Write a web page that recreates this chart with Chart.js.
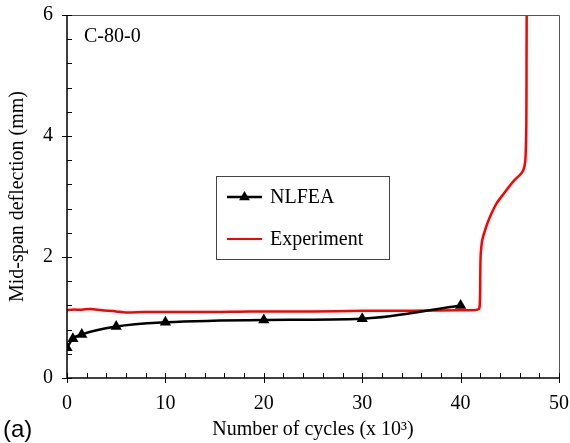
<!DOCTYPE html>
<html>
<head>
<meta charset="utf-8">
<script src="https://cdn.jsdelivr.net/npm/chart.js@4/dist/chart.umd.min.js"></script>
<style>
  html, body { margin: 0; padding: 0; background: #fff; }
  #wrap { width: 570px; height: 443px; position: relative; }
</style>
</head>
<body>
<div id="wrap"><canvas id="chart"></canvas></div>
<script>
// NLFEA prediction (cycles x 10^3, deflection mm)
const nlfeaCycles = [0, 0.6, 1.5, 5, 10, 20, 30, 40];
const nlfeaDefl = [0.5, 0.65, 0.72, 0.85, 0.92, 0.96, 0.98, 1.2];

// experimental curve
const expCycles = [0, 0.5, 1.5, 2.4, 3.5, 5, 5.7, 8, 10, 15, 18.6, 25, 30, 35, 40, 41.3, 41.7, 41.9, 41.97, 42.0, 42.03, 42.08, 42.2, 42.6, 43.0, 43.67, 44.4, 45.36, 46.2, 46.48, 46.6, 46.68, 46.7, 46.72];
const expDefl = [1.12, 1.13, 1.13, 1.14, 1.12, 1.1, 1.085, 1.09, 1.09, 1.09, 1.1, 1.1, 1.11, 1.11, 1.12, 1.12, 1.13, 1.15, 1.3, 1.7, 2.0, 2.12, 2.28, 2.5, 2.67, 2.89, 3.05, 3.25, 3.39, 3.49, 3.66, 4.2, 5.2, 6.3];

const xTicks = [0, 10, 20, 30, 40, 50];
const yTicks = [0, 2, 4, 6];
const xMinorStep = 2;
const yMinorStep = 0.4;

const serif = "'Liberation Serif', 'Times New Roman', serif";

function pairs(xs, ys) {
  return xs.map((x, i) => ({ x: x, y: ys[i] }));
}

const axisTicks = {
  id: "axisTicks",
  afterDraw(chart) {
    const ctx = chart.ctx;
    const a = chart.chartArea;
    const xs = chart.scales.x, ys = chart.scales.y;
    ctx.save();
    // top and right frame
    ctx.strokeStyle = "#555";
    ctx.lineWidth = 1;
    ctx.beginPath();
    ctx.moveTo(a.left, a.top + 0.5);
    ctx.lineTo(a.right + 0.5, a.top + 0.5);
    ctx.lineTo(a.right + 0.5, a.bottom);
    ctx.stroke();
    // left and bottom axes
    ctx.strokeStyle = "#000";
    ctx.lineWidth = 1.5;
    ctx.beginPath();
    ctx.moveTo(a.left, a.top);
    ctx.lineTo(a.left, a.bottom);
    ctx.lineTo(a.right, a.bottom);
    ctx.stroke();
    ctx.lineWidth = 1;
    ctx.beginPath();
    for (let v = 0; v <= 50 + 1e-9; v += xMinorStep) {
      const px = Math.round(xs.getPixelForValue(v)) + 0.5;
      const major = xTicks.includes(Math.round(v));
      ctx.moveTo(px, a.bottom + (major ? 5 : 0));
      ctx.lineTo(px, a.bottom - 5);
    }
    for (let v = 0; v <= 6 + 1e-9; v += yMinorStep) {
      const py = Math.round(ys.getPixelForValue(v)) + 0.5;
      const major = Math.abs(v / 2 - Math.round(v / 2)) < 1e-6;
      ctx.moveTo(a.left - (major ? 5 : 0), py);
      ctx.lineTo(a.left + 5, py);
    }
    ctx.stroke();

    // sample label
    ctx.fillStyle = "#000";
    ctx.font = "20px " + serif;
    ctx.textBaseline = "alphabetic";
    ctx.textAlign = "left";
    ctx.fillText("C-80-0", 84, 42);

    // panel label
    ctx.font = "24px 'Liberation Sans', Arial, sans-serif";
    ctx.fillText("(a)", 3, 437);

    // legend box
    const lx = 216, ly = 176, lw = 173, lh = 83;
    ctx.strokeStyle = "#444";
    ctx.lineWidth = 1;
    ctx.strokeRect(lx + 0.5, ly + 0.5, lw, lh);
    ctx.font = "20px " + serif;
    ctx.textBaseline = "middle";
    const ds = chart.data.datasets;
    const rows = [197, 239];
    ds.forEach((d, i) => {
      const y = rows[i];
      ctx.strokeStyle = d.borderColor;
      ctx.lineWidth = i === 0 ? 2.5 : 1.8;
      ctx.beginPath();
      ctx.moveTo(227, y);
      ctx.lineTo(262, y);
      ctx.stroke();
      if (d.pointRadius > 0) {
        ctx.fillStyle = "#000";
        const r = 6;
        ctx.beginPath();
        ctx.moveTo(244.5, y - r);
        ctx.lineTo(244.5 + r * 0.9, y + r * 0.55);
        ctx.lineTo(244.5 - r * 0.9, y + r * 0.55);
        ctx.closePath();
        ctx.fill();
      }
      ctx.fillStyle = "#000";
      ctx.fillText(d.label, 270, y + 1);
    });
    ctx.restore();
  }
};

new Chart(document.getElementById("chart"), {
  type: "line",
  data: {
    datasets: [
      {
        label: "NLFEA",
        data: pairs(nlfeaCycles, nlfeaDefl),
        borderColor: "#000",
        backgroundColor: "#000",
        borderWidth: 2.5,
        pointStyle: "triangle",
        pointRadius: 6.5,
        pointBackgroundColor: "#000",
        pointBorderWidth: 0,
        cubicInterpolationMode: "monotone",
        order: 1
      },
      {
        label: "Experiment",
        data: pairs(expCycles, expDefl),
        borderColor: "#ff0000",
        borderWidth: 2.5,
        pointRadius: 0,
        tension: 0.3,
        order: 2
      }
    ]
  },
  options: {
    responsive: true,
    maintainAspectRatio: false,
    animation: false,
    events: [],
    layout: { padding: { top: 15, right: 11, left: 0, bottom: 0 } },
    plugins: { legend: { display: false }, tooltip: { enabled: false } },
    scales: {
      x: {
        type: "linear",
        min: 0,
        max: 50,
        afterFit(s) {
          s.height = 65;
          s.paddingLeft = 0;
          s.paddingRight = 0;
        },
        afterBuildTicks(s) { s.ticks = xTicks.map(v => ({ value: v })); },
        grid: { display: false, drawTicks: false },
        border: { display: false },
        ticks: { color: "#000", padding: 14, font: { family: serif, size: 20 } },
        title: {
          display: true,
          text: "Number of cycles (x 10³)",
          color: "#000",
          padding: { top: 0, bottom: 1 },
          font: { family: serif, size: 20 }
        }
      },
      y: {
        type: "linear",
        min: 0,
        max: 6,
        afterFit(s) {
          s.width = 67;
          s.paddingTop = 0;
          s.paddingBottom = 0;
        },
        afterBuildTicks(s) { s.ticks = yTicks.map(v => ({ value: v })); },
        grid: { display: false, drawTicks: false },
        border: { display: false },
        ticks: { color: "#000", padding: 14, font: { family: serif, size: 20 } },
        title: {
          display: true,
          text: "Mid-span deflection (mm)",
          color: "#000",
          padding: { top: 6, bottom: 0 },
          font: { family: serif, size: 20 }
        }
      }
    }
  },
  plugins: [axisTicks]
});
</script>
</body>
</html>
